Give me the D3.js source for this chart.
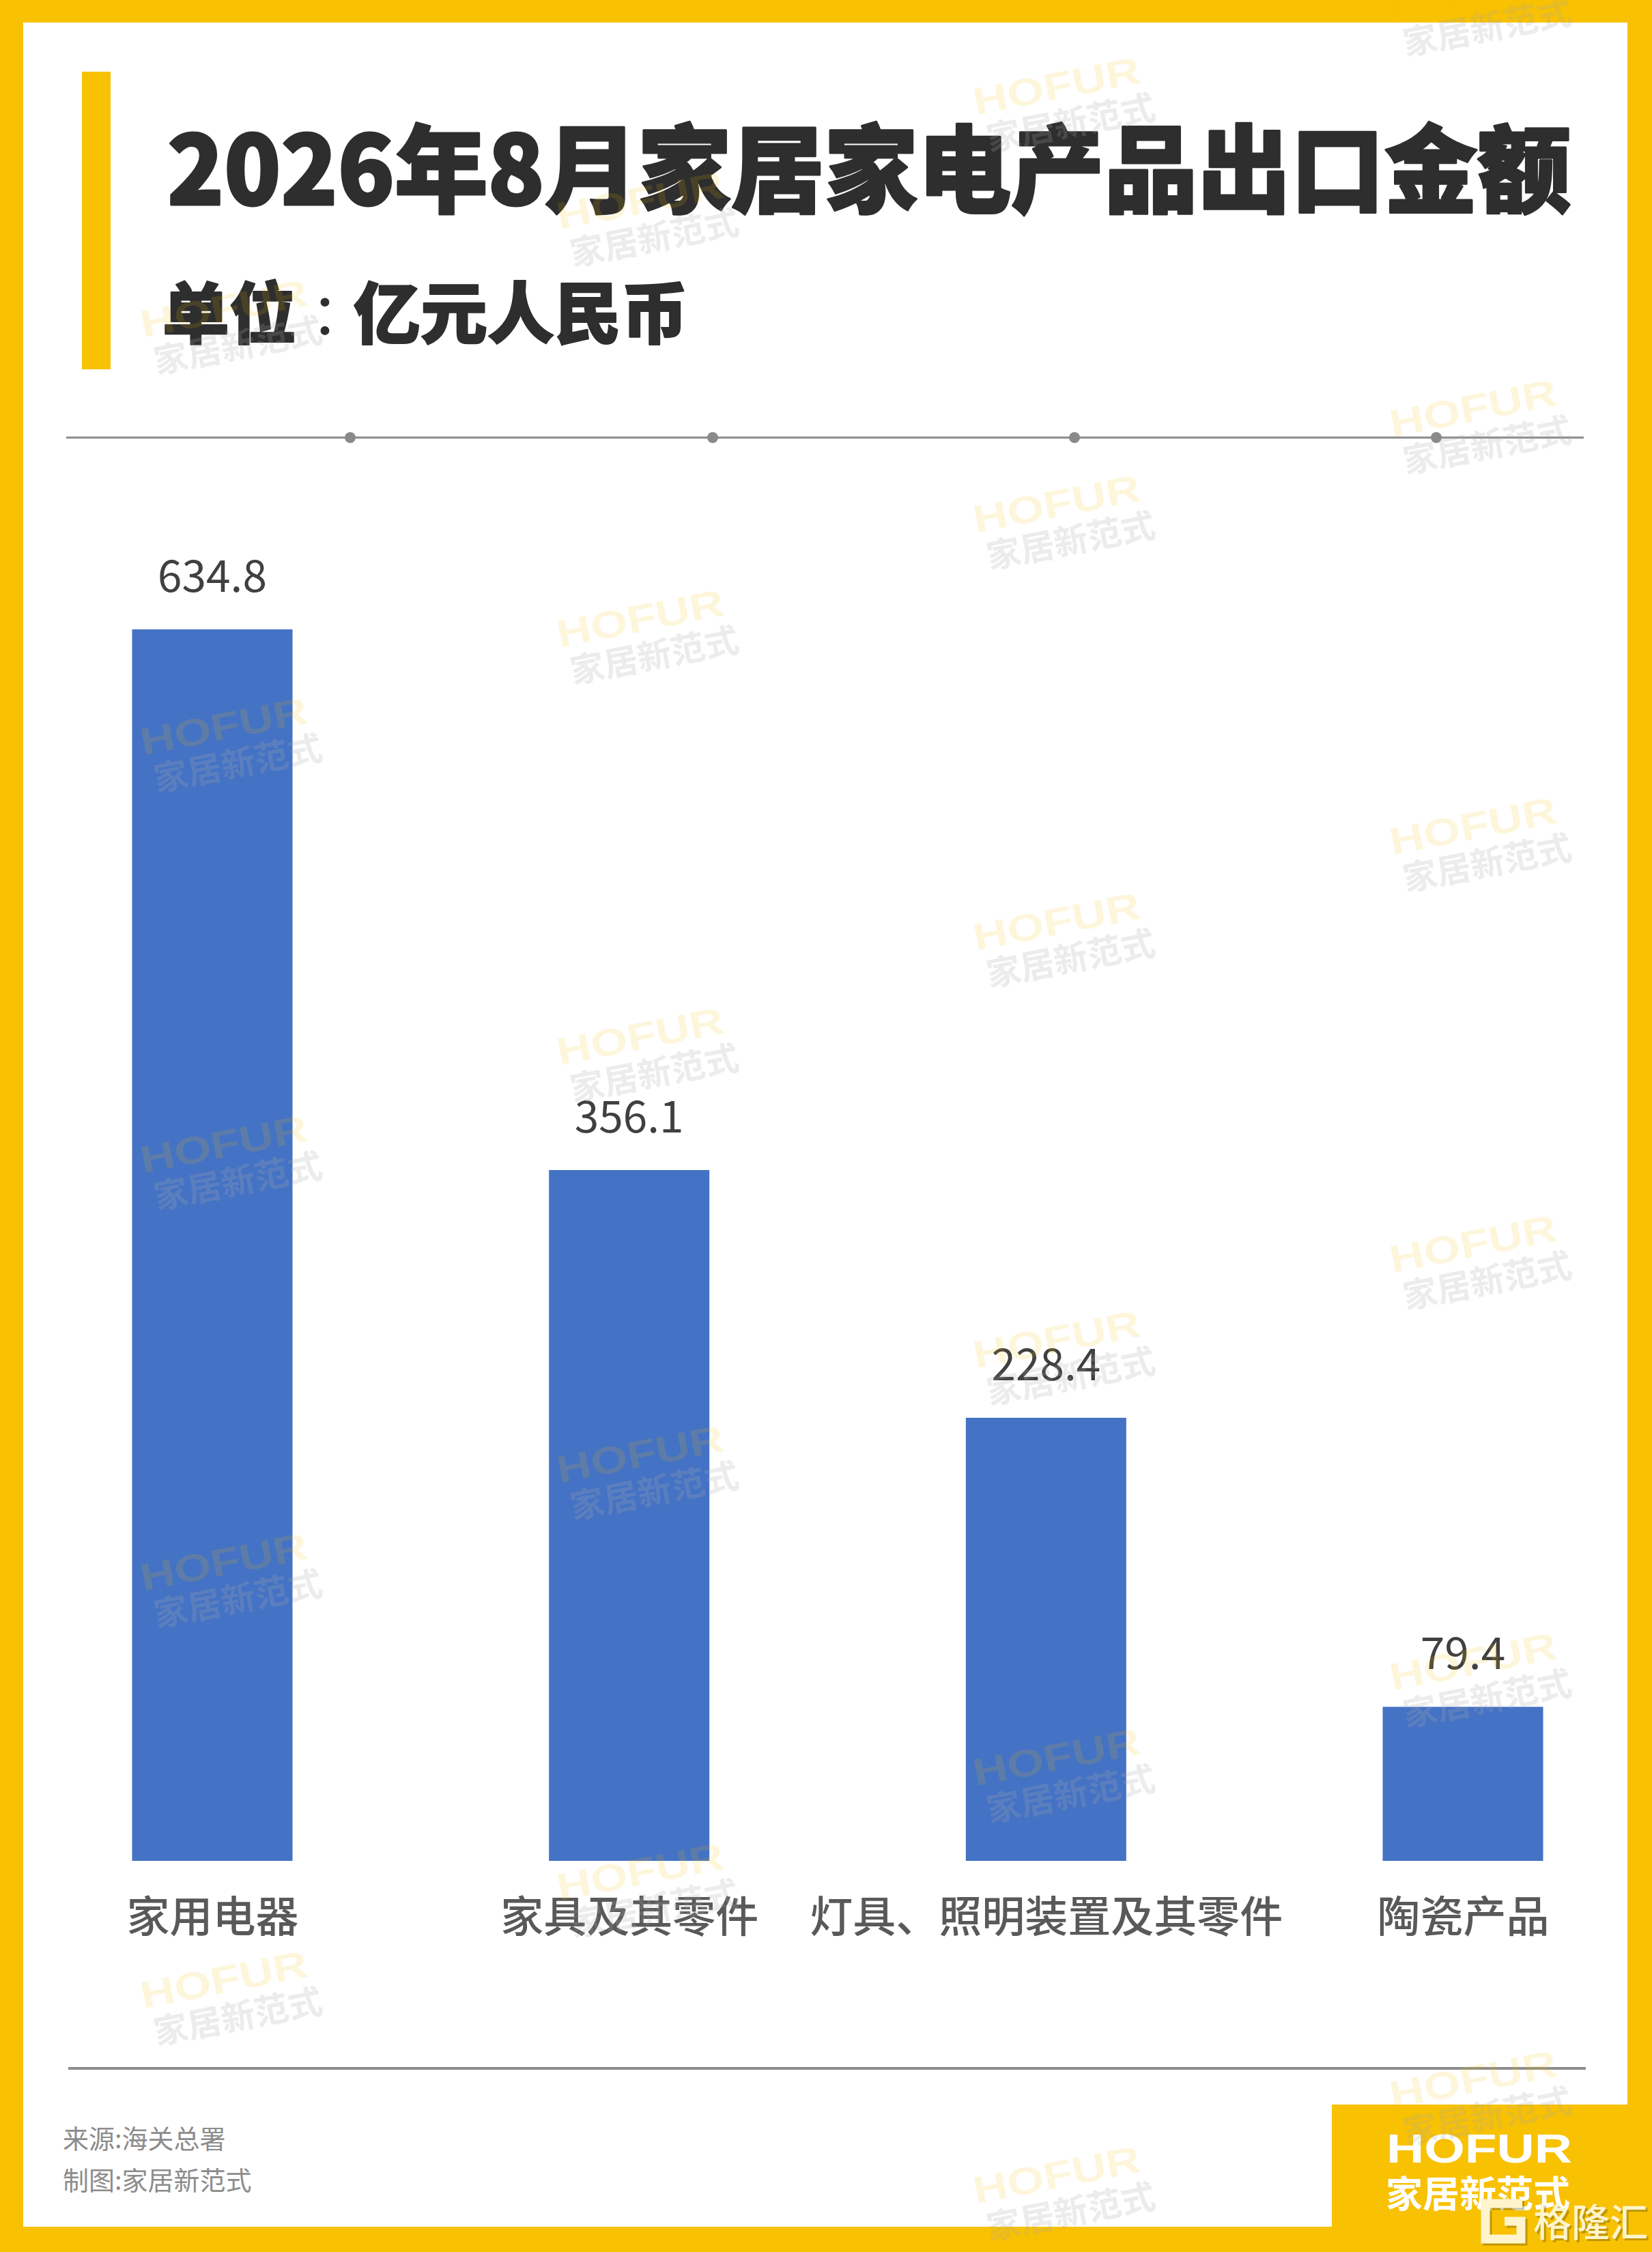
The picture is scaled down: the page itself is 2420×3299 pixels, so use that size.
<!DOCTYPE html>
<html><head><meta charset="utf-8">
<script src="https://cdn.jsdelivr.net/npm/d3@7"></script>
<style>html,body{margin:0;padding:0;background:#fff}</style>
</head><body>
<script>
const categories = ["家用电器", "家具及其零件", "灯具、照明装置及其零件", "陶瓷产品"];
const values = [634.8, 356.1, 228.4, 79.4];
const valueLabels = ["634.8", "356.1", "228.4", "79.4"];
const titleText = "2026年8月家居家电产品出口金额";
const subtitleParts = ["单位", "：", "亿元人民币"];
const sourceLines = ["来源:海关总署", "制图:家居新范式"];

const W = 2420, H = 3299;
const YEL = "#F8C102";
const FONT = "'Noto Sans CJK SC', 'Noto Sans', sans-serif";

const svg = d3.select("body").append("svg")
  .attr("width", W).attr("height", H)
  .style("display", "block")
  .style("font-family", FONT);

// frame
svg.append("rect").attr("width", W).attr("height", H).attr("fill", YEL);
svg.append("rect").attr("x", 34).attr("y", 33).attr("width", 2384 - 34).attr("height", 3262 - 33).attr("fill", "#fff");
svg.append("rect").attr("x", 1951).attr("y", 3083).attr("width", W - 1951).attr("height", H - 3083).attr("fill", YEL);

// title block
svg.append("rect").attr("x", 120).attr("y", 105).attr("width", 42).attr("height", 436).attr("fill", YEL);
svg.append("text").attr("x", 245).attr("y", 300)
  .attr("font-size", 140).attr("font-weight", 900).attr("fill", "#2e2e2e")
  .attr("stroke", "#2e2e2e").attr("stroke-width", 3).attr("stroke-linejoin", "round")
  .attr("textLength", 2056).attr("lengthAdjust", "spacingAndGlyphs")
  .text(titleText);
const sub = svg.append("text").attr("x", 238).attr("y", 495)
  .attr("font-size", 98).attr("font-weight", 900).attr("fill", "#2e2e2e")
  .attr("stroke", "#2e2e2e").attr("stroke-width", 2).attr("stroke-linejoin", "round");
sub.append("tspan").text(subtitleParts[0]);
sub.append("tspan").style("font-family", "'Noto Sans CJK TC', sans-serif").attr("font-weight", 400)
  .attr("font-size", 84).attr("stroke-width", 0).text(subtitleParts[1]);
sub.append("tspan").text(subtitleParts[2]);

// top separator with dots
svg.append("line").attr("x1", 97).attr("x2", 2320).attr("y1", 641).attr("y2", 641)
  .attr("stroke", "#8a8a8a").attr("stroke-width", 3);
svg.selectAll("circle.dot").data([513, 1044, 1574, 2104]).join("circle")
  .attr("class", "dot").attr("cx", d => d).attr("cy", 641).attr("r", 8).attr("fill", "#8a8a8a");

// scales
const x = d3.scalePoint().domain(categories).range([311, 2143]);
const y = d3.scaleLinear().domain([0, 634.8]).range([2726, 922]);
const barW = 235;

svg.selectAll("rect.bar").data(values).join("rect")
  .attr("class", "bar")
  .attr("x", (d, i) => x(categories[i]) - barW / 2)
  .attr("width", barW)
  .attr("y", d => y(d))
  .attr("height", d => y(0) - y(d))
  .attr("fill", "#4472C4");

svg.selectAll("text.val").data(values).join("text")
  .attr("class", "val")
  .attr("x", (d, i) => x(categories[i]))
  .attr("y", d => y(d) - 55)
  .attr("text-anchor", "middle")
  .attr("font-size", 64).attr("fill", "#404040")
  .text((d, i) => valueLabels[i]);

const xAxis = d3.axisBottom(x).tickSize(0).tickPadding(0);
const ax = svg.append("g").attr("transform", `translate(0,${y(0)})`).call(xAxis);
ax.select(".domain").remove();
ax.selectAll("text")
  .attr("y", 104).attr("dy", null)
  .attr("font-size", 63).attr("font-weight", 500)
  .attr("fill", "#595959")
  .style("font-family", FONT);

// bottom separator
svg.append("line").attr("x1", 100).attr("x2", 2323).attr("y1", 3030).attr("y2", 3030)
  .attr("stroke", "#8c8c8c").attr("stroke-width", 4);

svg.selectAll("text.src").data(sourceLines).join("text")
  .attr("class", "src")
  .attr("x", 92).attr("y", (d, i) => 3147 + i * 61)
  .attr("font-size", 38).attr("fill", "#8c8c8c")
  .text(d => d);

// brand box
svg.append("text").attr("x", 2031).attr("y", 3168)
  .attr("font-family", "'Liberation Sans', Arial, sans-serif")
  .attr("font-size", 60).attr("font-weight", 700).attr("fill", "#fff")
  .attr("textLength", 272).attr("lengthAdjust", "spacingAndGlyphs")
  .text("HOFUR");
svg.append("text").attr("x", 2030).attr("y", 3234)
  .attr("font-size", 54).attr("font-weight", 700).attr("fill", "#fff")
  .text("家居新范式");

// watermarks (decorative)
const wmCols = [337, 947, 1557, 2167];
const wmBase = [478, 320, 152, 12];
const wmStep = 612;
const wmPts = [];
wmCols.forEach((cx, c) => {
  for (let k = 0; k < 6; k++) {
    const cy = wmBase[c] + k * wmStep;
    if (cy < H - 30) wmPts.push([cx, cy]);
  }
});
const wm = svg.selectAll("g.wm").data(wmPts).join("g")
  .attr("class", "wm")
  .attr("transform", d => `translate(${d[0]},${d[1]}) rotate(-11)`);
wm.append("text").attr("x", -4).attr("y", -8).attr("text-anchor", "middle")
  .attr("font-family", "'Liberation Sans', Arial, sans-serif")
  .attr("font-size", 56).attr("font-weight", 700)
  .attr("textLength", 248).attr("lengthAdjust", "spacingAndGlyphs")
  .attr("fill", "#F5C000").attr("fill-opacity", 0.14)
  .text("HOFUR");
wm.append("text").attr("x", 6).attr("y", 48).attr("text-anchor", "middle")
  .attr("font-size", 50).attr("font-weight", 700)
  .attr("fill", "#aaaaaa").attr("fill-opacity", 0.22)
  .text("家居新范式");

// 格隆汇 logo
const logo = svg.append("g");
const gPath = "M2230,3228 L2176,3228 L2176,3280 L2228,3280 L2228,3254 L2204,3254";
logo.append("path").attr("d", gPath)
  .attr("fill", "none").attr("stroke", "#5a4a00").attr("stroke-opacity", 0.35)
  .attr("stroke-width", 13).attr("transform", "translate(3,3)");
logo.append("path").attr("d", gPath)
  .attr("fill", "none").attr("stroke", "#FFF4CC").attr("stroke-width", 13);
logo.append("text").attr("x", 2249).attr("y", 3279)
  .attr("font-size", 56).attr("font-weight", 500).attr("fill", "#5a4a00").attr("fill-opacity", 0.35)
  .text("格隆汇");
logo.append("text").attr("x", 2246).attr("y", 3276)
  .attr("font-size", 56).attr("font-weight", 500).attr("fill", "#FFF4CC")
  .text("格隆汇");
</script>
</body></html>
